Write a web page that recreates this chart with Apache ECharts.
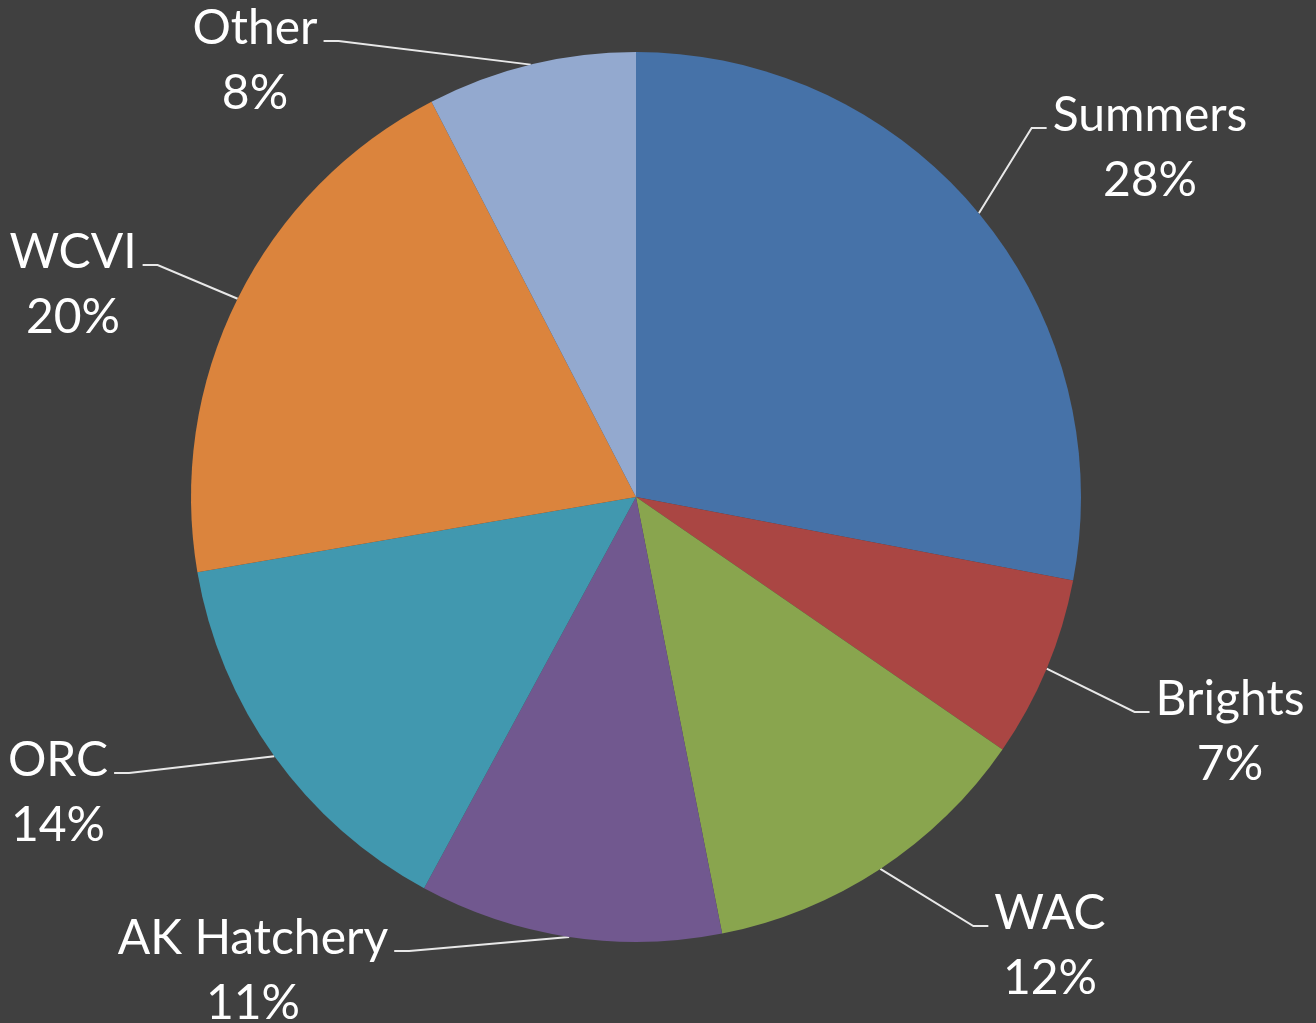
<!DOCTYPE html>
<html>
<head>
<meta charset="utf-8">
<script src="https://cdn.jsdelivr.net/npm/echarts@6/dist/echarts.min.js"></script>
<style>
  html, body { margin: 0; padding: 0; background: #404040; }
  #chart { width: 1316px; height: 1023px; }
</style>
</head>
<body>
<div id="chart"></div>
<script>
// share of each group, clockwise from 12 o'clock
const categories = ["Summers", "Brights", "WAC", "AK Hatchery", "ORC", "WCVI", "Other"];
const values = [28.0, 6.6, 12.3, 11.0, 14.4, 20.1, 7.6];
const colors = ["#4672A8", "#AA4643", "#89A54E", "#71588F", "#4198AF", "#DB843D", "#93A9CF"];

// where each label block sits (centre x, centre y)
const labelPos = [
  [1150, 148], [1230, 732], [1050, 946], [253, 971],
  [58, 793], [73, 285], [255, 61]
];

const myChart = echarts.init(document.getElementById("chart"));

const option = {
  backgroundColor: "#404040",
  animation: false,
  series: [
    {
      type: "pie",
      center: [636, 497],
      radius: 445,
      startAngle: 90,
      clockwise: true,
      percentPrecision: 0,
      data: categories.map((name, i) => {
        return { name: name, value: values[i], itemStyle: { color: colors[i] } };
      }),
      itemStyle: { borderWidth: 0 },
      label: {
        show: true,
        position: "outside",
        formatter: "{n|{b}}\n{n|{d}%}",
        rich: {
          n: {
            color: "#fff",
            fontFamily: "Lato",
            fontSize: 48,
            lineHeight: 65,
            align: "center"
          }
        }
      },
      labelLine: {
        show: true,
        lineStyle: { color: "#e8e8e8", width: 2 }
      },
      labelLayout: function (params) {
        const i = params.dataIndex;
        const p = labelPos[i];
        const w = params.labelRect.width;
        const left = p[0] < 636;
        const endX = left ? p[0] + w / 2 + 6 : p[0] - w / 2 - 6;
        const endY = p[1] - 20;
        const elbowX = left ? endX + 15 : endX - 15;
        const start = params.labelLinePoints ? params.labelLinePoints[0] : [endX, endY];
        return {
          x: p[0],
          y: p[1],
          align: "center",
          verticalAlign: "middle",
          labelLinePoints: [start, [elbowX, endY], [endX, endY]]
        };
      }
    }
  ]
};

myChart.setOption(option);
</script>
</body>
</html>
